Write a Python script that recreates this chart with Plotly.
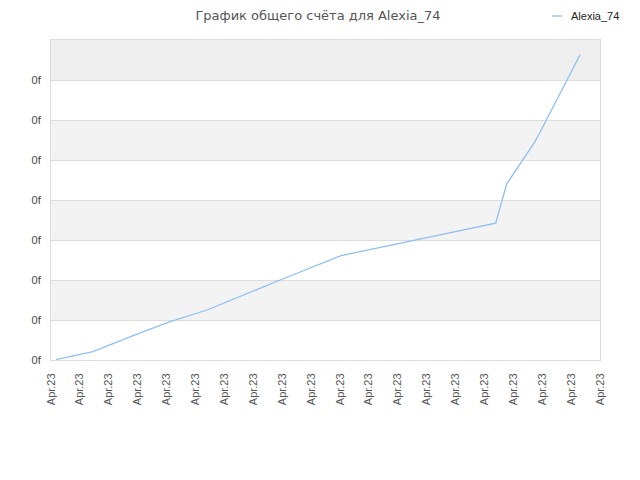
import plotly.graph_objects as go

# values (x in tick steps, y in gridline steps)
player = "Alexia_74"
x_vals = [0.17, 1.45, 2.91, 4.12, 5.40, 6.72, 7.93, 10.04, 15.39, 15.77, 16.72, 16.93, 18.31]
y_vals = [0.01, 0.21, 0.63, 0.96, 1.25, 1.65, 2.00, 2.61, 3.42, 4.40, 5.43, 5.70, 7.63]
x_ticks = list(range(20))
x_labels = ["Apr.23"] * 20
y_ticks = list(range(8))
y_labels = ["0f"] * 8
line_color = "#90bff2"

fig = go.Figure()
fig.add_trace(go.Scatter(
    x=x_vals, y=y_vals, mode="lines", name=player, showlegend=False,
    line=dict(color=line_color, width=1.3),
))

# alternating horizontal bands
for i in range(8):
    if i % 2 == 1:
        fig.add_shape(type="rect", xref="paper", yref="y", x0=0, x1=1, y0=i, y1=i + 1,
                      fillcolor="#eeeeee" if i == 7 else "#f3f3f3",
                      line_width=0, layer="below")

# small legend in the top right corner
fig.add_shape(type="line", xref="paper", yref="paper",
              x0=(552 - 51) / 549, x1=(562 - 51) / 549, y0=1 + 24 / 320, y1=1 + 24 / 320,
              line=dict(color=line_color, width=1.3))
fig.add_annotation(text=player, xref="paper", yref="paper",
                   x=(569 - 51) / 549, y=1 + 24 / 320, xanchor="left", yanchor="middle",
                   showarrow=False, font=dict(family="Liberation Sans", size=11, color="#222222"))

# page body has an 8px margin, so the figure is a bit smaller than the window
fig.update_layout(
    width=632, height=472,
    margin=dict(l=43, r=40, t=32, b=120, autoexpand=False),
    paper_bgcolor="white", plot_bgcolor="white",
    title=dict(text="График общего счёта для " + player, x=0.4905, y=0.993,
               xanchor="center", yanchor="top",
               font=dict(family="DejaVu Sans", size=13, color="#555555")),
    showlegend=False,
    font=dict(family="Liberation Sans", size=11, color="#444444"),
)
fig.update_xaxes(
    range=[0, 19], tickvals=x_ticks, ticktext=x_labels, tickangle=-90,
    showgrid=False, zeroline=False, showline=True, linecolor="#dddddd", mirror=True,
    tickfont=dict(color="#555555", size=11), ticks="", ticklabelstandoff=8,
)
fig.update_yaxes(
    range=[0, 8], tickvals=y_ticks, ticktext=y_labels,
    showgrid=True, gridcolor="#dddddd", zeroline=False,
    showline=True, linecolor="#dddddd", mirror=True,
    tickfont=dict(color="#444444", size=11), ticks="", ticklabelstandoff=7,
)

fig.write_html("out.html")
